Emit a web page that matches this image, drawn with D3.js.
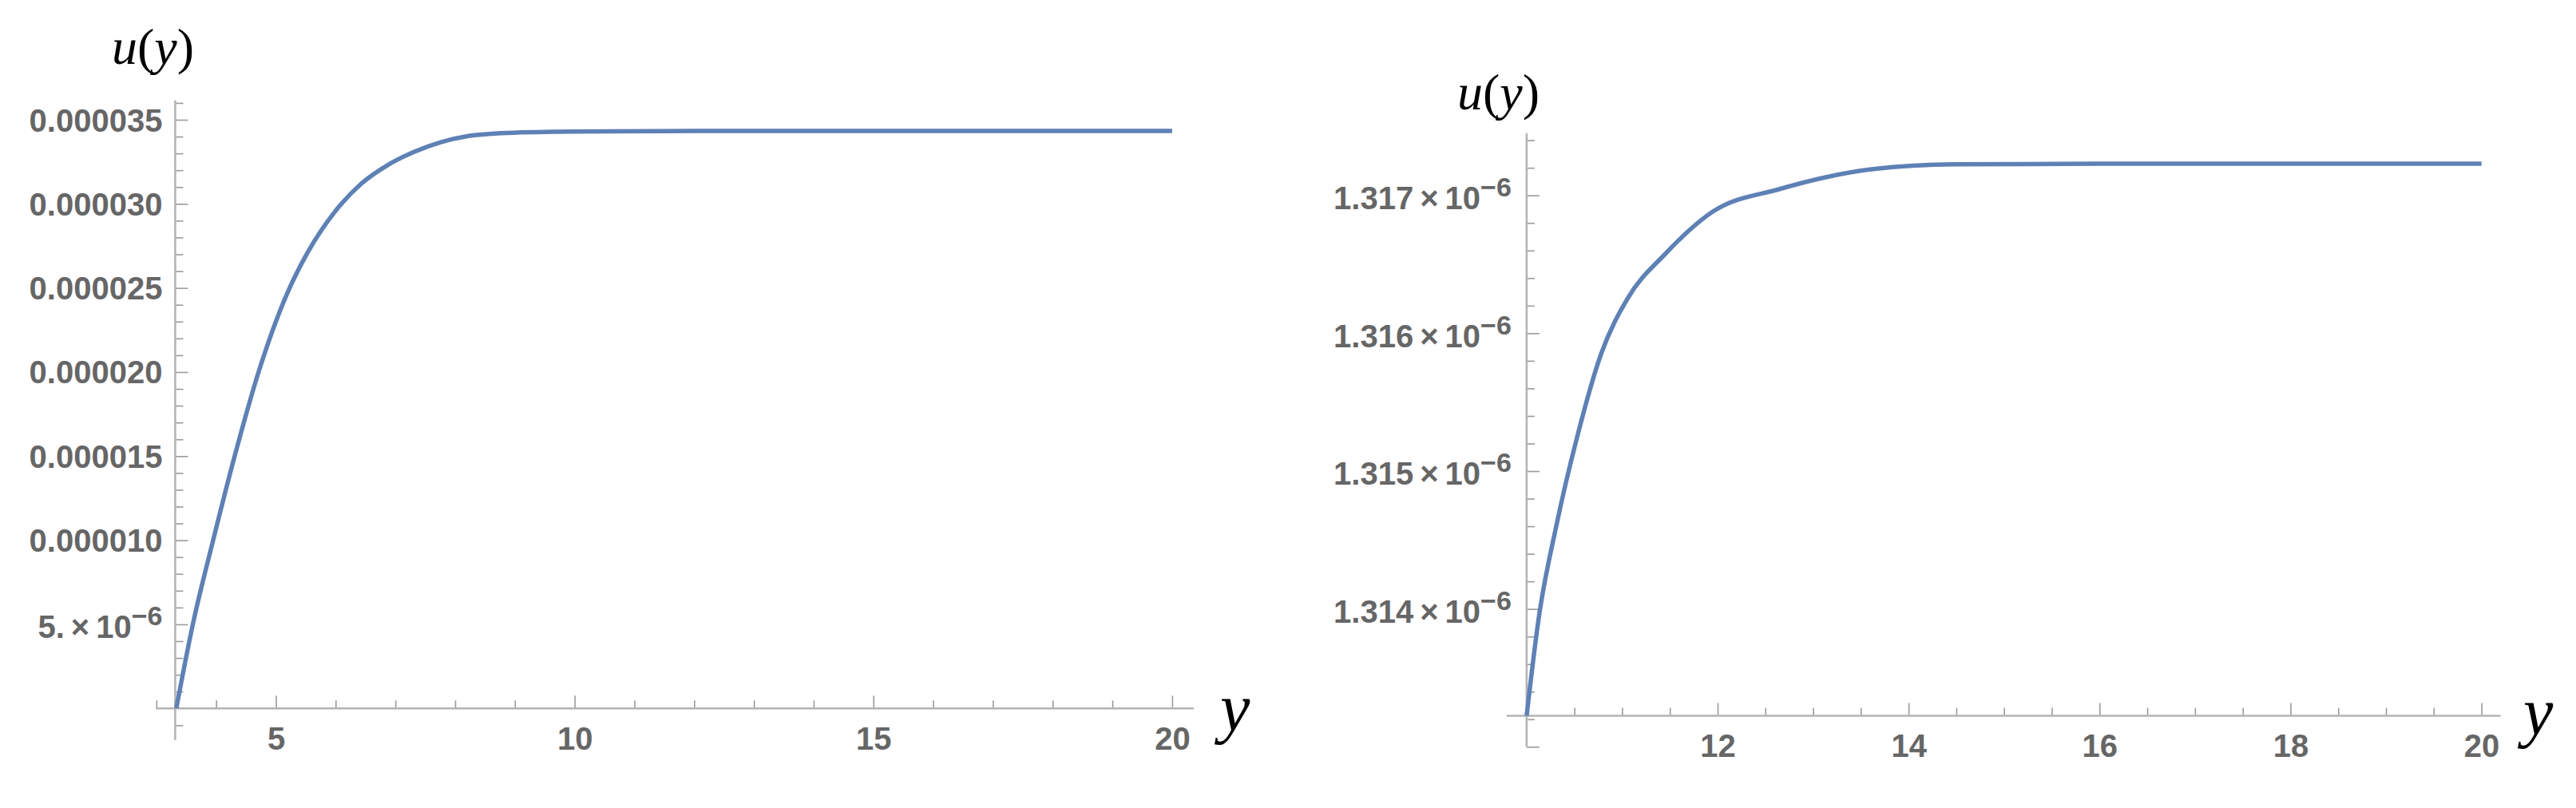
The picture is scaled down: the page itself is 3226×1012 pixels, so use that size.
<!DOCTYPE html>
<html>
<head>
<meta charset="utf-8">
<script src="https://cdn.jsdelivr.net/npm/d3@7"></script>
<style>
  html, body { margin: 0; padding: 0; background: #fff; }
  svg { display: block; }
</style>
</head>
<body>
<svg id="chart" width="3226" height="1012"></svg>
<script>
// ---------- data ----------
const leftX = [3.333, 3.61, 3.95, 4.31, 4.71, 5.18, 5.53, 5.98, 6.43, 6.87, 7.32, 7.76, 8.21, 8.88, 10, 12, 15, 20];
const leftU = [0, 5.0e-6, 10.0e-6, 15.0e-6, 20.0e-6, 24.6e-6, 27.1e-6, 29.5e-6, 31.2e-6, 32.3e-6, 33.1e-6, 33.67e-6, 34.03e-6, 34.22e-6, 34.30e-6, 34.33e-6, 34.33e-6, 34.33e-6];

const rightX = [10, 10.13, 10.31, 10.53, 10.78, 11.06, 11.45, 11.95, 12.65, 13.63, 14.5, 16, 18, 20];
const rightU = [1.313225e-6, 1.31395e-6, 1.31460e-6, 1.31525e-6, 1.31585e-6, 1.316255e-6, 1.316574e-6, 1.316882e-6, 1.317046e-6, 1.317191e-6, 1.317225e-6, 1.31723e-6, 1.31723e-6, 1.31723e-6];

const leftXTicks = [5, 10, 15, 20];
const leftXTickLabels = ["5", "10", "15", "20"];
const leftYTicks = [5e-6, 10e-6, 15e-6, 20e-6, 25e-6, 30e-6, 35e-6];
const leftYTickLabels = ["5.\u2009\u00D7\u200910^\u22126", "0.000010", "0.000015", "0.000020", "0.000025", "0.000030", "0.000035"];

const rightXTicks = [12, 14, 16, 18, 20];
const rightXTickLabels = ["12", "14", "16", "18", "20"];
const rightYTicks = [1.314e-6, 1.315e-6, 1.316e-6, 1.317e-6];
const rightYTickLabels = ["1.314\u2009\u00D7\u200910^\u22126", "1.315\u2009\u00D7\u200910^\u22126", "1.316\u2009\u00D7\u200910^\u22126", "1.317\u2009\u00D7\u200910^\u22126"];

const axisLabelY = "u";
const axisLabelX = "y";

// ---------- styling ----------
const LINE_COLOR = "#5E81B5";
const AXIS_COLOR = "#b4b4b4";
const TICK_COLOR = "#9a9a9a";
const LABEL_COLOR = "#666666";
const SANS = "'Liberation Sans', Arial, Helvetica, sans-serif";
const SERIF = "'Liberation Serif', 'Times New Roman', serif";

const svg = d3.select("#chart");
svg.append("rect").attr("width", 3226).attr("height", 1012).attr("fill", "#fff");

function drawPanel(cfg) {
  const g = svg.append("g");
  const x = d3.scaleLinear().domain(cfg.xDom).range(cfg.xRange);
  const y = d3.scaleLinear().domain(cfg.yDom).range(cfg.yRange);

  const axisY = y(cfg.xAxisAt);
  const axisX = x(cfg.yAxisAt);

  // --- X axis ---
  const xMinorG = g.append("g").attr("transform", `translate(0,${axisY})`)
    .call(d3.axisBottom(x).tickValues(cfg.xMinor).tickSize(-10).tickFormat(""));
  const xMajorG = g.append("g").attr("transform", `translate(0,${axisY})`)
    .call(d3.axisBottom(x).tickValues(cfg.xTicks).tickSize(-16).tickFormat(""));
  const xLabG = g.append("g").attr("transform", `translate(0,${axisY})`)
    .call(d3.axisBottom(x).tickValues(cfg.xTicks).tickSize(0)
      .tickFormat((d, i) => cfg.xLabels[i]));
  xLabG.selectAll("text").attr("y", cfg.xLabelOffset).attr("dy", null)
    .attr("fill", LABEL_COLOR).style("font-family", SANS)
    .style("font-weight", "bold").style("font-size", "40px");

  // --- Y axis ---
  const yMinorG = g.append("g").attr("transform", `translate(${axisX},0)`)
    .call(d3.axisLeft(y).tickValues(cfg.yMinor).tickSize(-10).tickFormat(""));
  const yMajorG = g.append("g").attr("transform", `translate(${axisX},0)`)
    .call(d3.axisLeft(y).tickValues(cfg.yMajorTickOnly.concat(cfg.yTicks)).tickSize(-16).tickFormat(""));
  const yLabG = g.append("g").attr("transform", `translate(${axisX},0)`)
    .call(d3.axisLeft(y).tickValues(cfg.yTicks).tickSize(0)
      .tickFormat((d, i) => cfg.yLabels[i]));
  yLabG.selectAll("text").each(function () {
    const t = d3.select(this);
    const s = t.text();
    t.text(null).attr("x", -cfg.yLabelGap).attr("text-anchor", "end")
      .attr("fill", LABEL_COLOR).style("font-family", SANS)
      .style("font-weight", "bold").style("font-size", "40px");
    if (s.indexOf("^") >= 0) {
      const parts = s.split("^");
      t.attr("dy", "0.42em");
      t.append("tspan").text(parts[0]);
      t.append("tspan").attr("dy", -16).style("font-size", "34px").text(parts[1]);
    } else {
      t.attr("dy", "0.35em").text(s);
    }
  });

  [xMinorG, xMajorG, xLabG, yMinorG, yMajorG, yLabG].forEach(a => a.select(".domain").remove());
  [xMinorG, xMajorG, yMinorG, yMajorG].forEach(a =>
    a.selectAll("line").attr("stroke", TICK_COLOR).attr("stroke-width", 1.6));

  // --- axis lines ---
  g.append("line")
    .attr("x1", x(cfg.xAxisExtent[0])).attr("x2", x(cfg.xAxisExtent[1]))
    .attr("y1", axisY).attr("y2", axisY)
    .attr("stroke", AXIS_COLOR).attr("stroke-width", 2.6);
  g.append("line")
    .attr("x1", axisX).attr("x2", axisX)
    .attr("y1", y(cfg.yAxisExtent[0])).attr("y2", y(cfg.yAxisExtent[1]))
    .attr("stroke", AXIS_COLOR).attr("stroke-width", 2.6);

  // --- curve ---
  const pts = cfg.xs.map((v, i) => [v, cfg.us[i]]);
  g.append("path")
    .datum(pts)
    .attr("fill", "none")
    .attr("stroke", LINE_COLOR)
    .attr("stroke-width", 5.5)
    .attr("stroke-linejoin", "round")
    .attr("d", d3.line().x(d => x(d[0])).y(d => y(d[1])).curve(d3.curveMonotoneX));

  // --- axis titles ---
  const ut = g.append("text")
    .attr("x", cfg.uPos[0]).attr("y", cfg.uPos[1])
    .style("font-family", SERIF).style("font-size", "64px").attr("fill", "#000");
  ut.append("tspan").style("font-style", "italic").text(axisLabelY);
  ut.append("tspan").text("(");
  ut.append("tspan").style("font-style", "italic").text(axisLabelX);
  ut.append("tspan").text(")");

  g.append("text")
    .attr("x", cfg.yPos[0]).attr("y", cfg.yPos[1])
    .style("font-family", SERIF).style("font-size", "84px")
    .style("font-style", "italic").attr("fill", "#000")
    .text(axisLabelX);
}

// ---------- left panel ----------
drawPanel({
  xs: leftX, us: leftU,
  xDom: [5, 20], xRange: [345.5, 1467.9],
  yDom: [0, 35e-6], yRange: [887.3, 150],
  xAxisAt: 0, yAxisAt: 3.315,
  xAxisExtent: [2.99, 20.36],
  yAxisExtent: [-1.87e-6, 36.15e-6],
  xTicks: leftXTicks, xLabels: leftXTickLabels,
  xMinor: d3.range(3, 20).filter(v => v % 5 !== 0),
  yTicks: leftYTicks, yLabels: leftYTickLabels,
  yMajorTickOnly: [],
  yMinor: d3.range(-1, 37).filter(v => v % 5 !== 0).map(v => v * 1e-6),
  xLabelOffset: 52, yLabelGap: 16,
  uPos: [140, 80], yPos: [1528, 915]
});

// ---------- right panel ----------
drawPanel({
  xs: rightX, us: rightU,
  xDom: [12, 20], xRange: [2151, 3107.6],
  yDom: [1.314e-6, 1.317e-6], yRange: [762.7, 244.7],
  xAxisAt: rightU[0], yAxisAt: 10,
  xAxisExtent: [9.79, 20.2],
  yAxisExtent: [1.313e-6, 1.317452e-6],
  xTicks: rightXTicks, xLabels: rightXTickLabels,
  xMinor: d3.range(10.5, 20, 0.5).filter(v => Math.abs(v / 2 - Math.round(v / 2)) > 1e-9),
  yTicks: rightYTicks, yLabels: rightYTickLabels,
  yMajorTickOnly: [1.313e-6],
  yMinor: d3.range(0, 23).filter(k => k % 5 !== 0).map(k => 1.313e-6 + k * 0.0002e-6),
  xLabelOffset: 51, yLabelGap: 19,
  uPos: [1825, 137], yPos: [3160, 920]
});
</script>
</body>
</html>
